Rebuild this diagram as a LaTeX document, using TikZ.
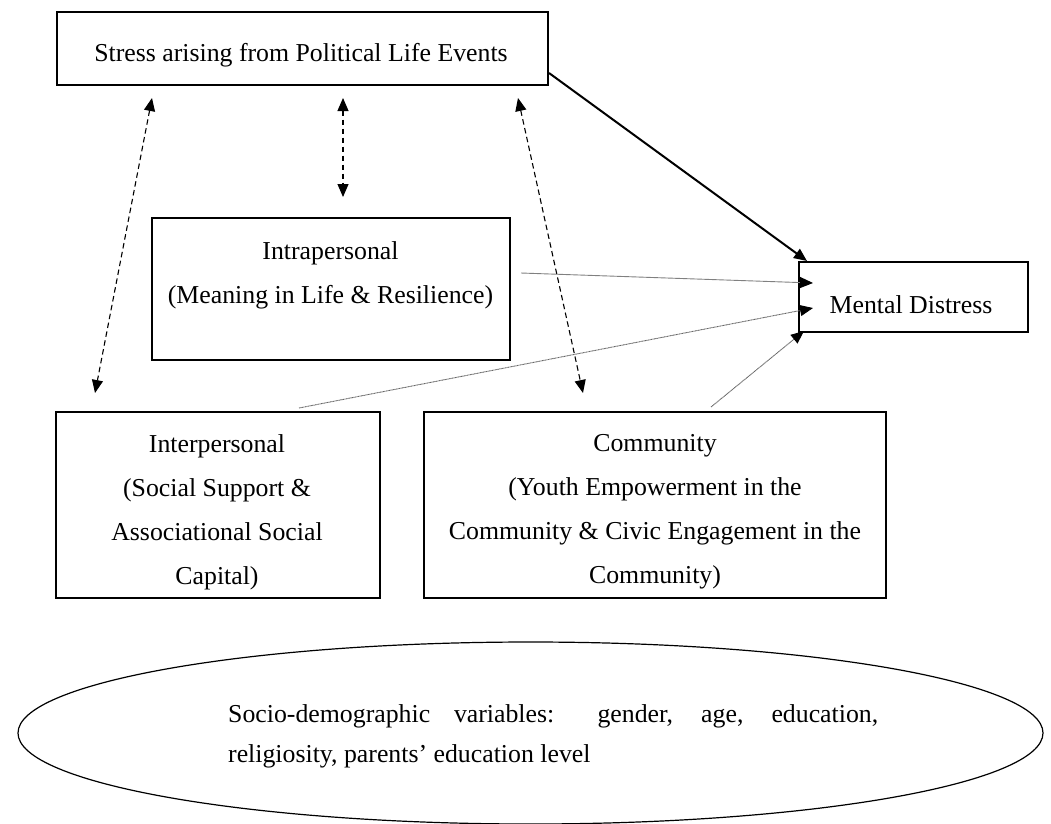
\documentclass[tikz,border=0pt]{standalone}
\usepackage{fontspec}
\setmainfont{Liberation Serif}
\usetikzlibrary{arrows.meta,shapes.geometric}
\begin{document}
\begin{tikzpicture}[x=1pt,y=-1pt,
  box/.style={draw,line width=1.2pt,inner sep=0pt},
  txt/.style={font=\fontsize{25.8}{44}\selectfont,align=center,inner sep=0pt},
  tip/.style={-{Triangle[length=13pt,width=11pt,color=black]}},
  dtip/.style={{Triangle[length=13pt,width=11pt]}-{Triangle[length=13pt,width=11pt]}},
  dashline/.style={dtip,line width=1.1pt,dash pattern=on 5.5pt off 3.5pt},
  dotline/.style={tip,draw=black!60,line width=0.9pt,dash pattern=on 1pt off 0.5pt},
  thinline/.style={tip,draw=black!50,line width=0.9pt}]
\useasboundingbox (0,0) rectangle (1051,823);
% boxes
\node[box,minimum width=491pt,minimum height=73pt] (stress) at (302.5,48.5) {};
\node[box,minimum width=358pt,minimum height=142pt] (intra) at (331,289) {};
\node[box,minimum width=229pt,minimum height=70pt] (mental) at (913.5,297) {};
\node[box,minimum width=324pt,minimum height=186pt] (inter) at (218,505) {};
\node[box,minimum width=462pt,minimum height=186pt] (comm) at (655,505) {};
\node[draw,line width=1.2pt,ellipse,minimum width=1025pt,minimum height=182pt,inner sep=0pt] (socio) at (530.5,733) {};
% texts
\node[txt] (stresst) at (301,55) {Stress arising from Political Life Events};
\node[txt] (intrat) at (330.5,275) {Intrapersonal\\(Meaning in Life \& Resilience)};
\node[txt] (mentalt) at (911,305) {Mental Distress};
\node[txt] (intert) at (217,512) {Interpersonal\\(Social Support \&\\Associational Social\\Capital)};
\node[txt] (commt) at (655,512) {Community\\(Youth Empowerment in the\\Community \& Civic Engagement in the\\Community)};
\node[txt,font=\fontsize{25.8}{40}\selectfont,text width=650pt,align=justify,anchor=west] (sociot) at (228,736) {\hyphenpenalty=10000 Socio-demographic variables: gender, age, education,\linebreak religiosity, parents’ education level};
% connector end points
\coordinate (s1) at (152,98);
\coordinate (s2) at (343,98);
\coordinate (s3) at (518,98);
\coordinate (i1) at (343,197);
\coordinate (p1) at (95,393);
\coordinate (c1) at (583,393);
\coordinate (so) at (549,73);
\coordinate (io) at (521,273);
\coordinate (po) at (299,408);
\coordinate (co) at (711,407);
\coordinate (m1) at (807,261);
\coordinate (m2) at (813,283);
\coordinate (m3) at (813,308);
\coordinate (m4) at (804,331);
% connectors
\draw[dashline] (s1) -- (p1);
\draw[dashline] (s2) -- (i1);
\draw[dashline] (s3) -- (c1);
\draw[tip,line width=2pt] (so) -- (m1);
\draw[thinline] (io) -- (m2);
\draw[dotline] (po) -- (m3);
\draw[dotline] (co) -- (m4);
\end{tikzpicture}
\end{document}
